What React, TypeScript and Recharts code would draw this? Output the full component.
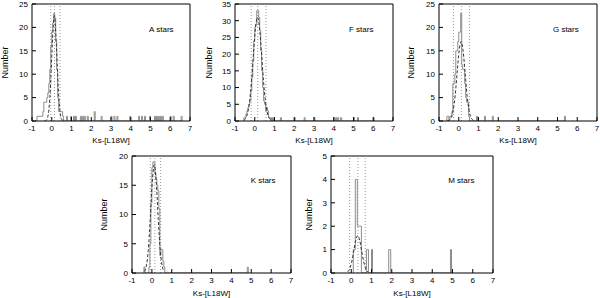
import { ComposedChart, Line, XAxis, YAxis, ReferenceLine, ReferenceDot } from "recharts";

// histogram bins are [left edge, count], bin width 0.05 mag
const BIN = 0.05;
const X_TICKS = [-1, 0, 1, 2, 3, 4, 5, 6, 7];

const aBins: [number, number][] = [
  [-0.75, 1], [-0.7, 1], [-0.65, 1], [-0.6, 1], [-0.55, 1], [-0.5, 1], [-0.45, 2], [-0.4, 4],
  [-0.35, 4], [-0.3, 4], [-0.25, 5], [-0.2, 6], [-0.15, 8], [-0.1, 11], [-0.05, 16], [0, 19],
  [0.05, 21], [0.1, 23], [0.15, 22], [0.2, 17], [0.25, 11], [0.3, 5], [0.35, 2], [0.4, 2],
  [0.45, 2], [0.5, 2], [0.55, 1], [0.75, 1], [0.95, 1], [1.1, 1], [1.2, 1], [1.45, 1],
  [1.55, 1], [1.65, 1], [1.8, 1], [2.15, 2], [2.5, 1], [3.0, 1], [3.15, 1], [3.3, 1],
  [3.95, 1], [4.4, 1], [4.55, 1], [4.7, 1], [4.95, 1], [5.2, 1], [5.3, 1], [5.4, 1],
  [5.5, 1], [5.6, 1], [6.0, 1], [6.15, 1], [6.55, 1],
];
const aFit: [number, number][] = [
  [-0.37, 0.02], [-0.27, 0.2], [-0.17, 1.6], [-0.07, 6.9], [0.03, 16.7], [0.13, 22.5],
  [0.23, 16.7], [0.33, 6.9], [0.43, 1.6], [0.53, 0.2], [0.63, 0.02],
];
const aMarks = [-0.05, 0.14, 0.42];

const fBins: [number, number][] = [
  [-0.55, 1], [-0.5, 1], [-0.45, 2], [-0.4, 3], [-0.35, 4], [-0.3, 5], [-0.25, 6], [-0.2, 9],
  [-0.15, 13], [-0.1, 18], [-0.05, 24], [0, 28], [0.05, 29], [0.1, 33], [0.15, 33], [0.2, 31],
  [0.25, 27], [0.3, 21], [0.35, 15], [0.4, 10], [0.45, 6], [0.5, 5], [0.55, 3], [0.6, 4],
  [0.65, 3], [0.7, 1], [0.75, 1], [0.85, 1], [0.95, 1], [1.3, 1], [2.0, 1], [2.5, 1],
  [3.0, 1], [4.0, 1], [4.1, 1], [4.2, 1], [4.35, 1], [5.0, 1], [5.2, 1], [6.0, 1],
];
const fFit: [number, number][] = [
  [-0.56, 0.2], [-0.46, 0.8], [-0.36, 2.4], [-0.26, 6], [-0.16, 12.2], [-0.06, 20.5],
  [0.04, 28], [0.14, 31], [0.24, 28], [0.34, 20.5], [0.44, 12.2], [0.54, 6], [0.64, 2.4],
  [0.74, 0.8], [0.84, 0.2],
];
const fMarks = [-0.18, 0.15, 0.57];

const gBins: [number, number][] = [
  [-0.6, 1], [-0.55, 1], [-0.45, 1], [-0.4, 1], [-0.35, 2], [-0.3, 8], [-0.25, 8], [-0.2, 10],
  [-0.15, 15], [-0.1, 15], [-0.05, 17], [0, 19], [0.05, 19], [0.1, 23], [0.15, 12], [0.2, 11],
  [0.25, 11], [0.3, 8], [0.35, 5], [0.4, 4], [0.45, 4], [0.5, 1], [0.9, 1], [1.3, 1],
  [1.7, 1], [5.35, 1],
];
const gFit: [number, number][] = [
  [-0.58, 0.04], [-0.48, 0.2], [-0.38, 0.75], [-0.28, 2.3], [-0.18, 5.5], [-0.08, 10.4],
  [0.02, 15], [0.12, 17], [0.22, 15], [0.32, 10.4], [0.42, 5.5], [0.52, 2.3], [0.62, 0.75],
  [0.72, 0.2], [0.82, 0.04],
];
const gMarks = [-0.27, 0.13, 0.54];

const kBins: [number, number][] = [
  [-0.4, 1], [-0.15, 1], [-0.1, 5], [-0.05, 12], [0, 18], [0.05, 19], [0.1, 19], [0.15, 17],
  [0.2, 16], [0.25, 15], [0.3, 14], [0.35, 11], [0.4, 3], [0.45, 4], [0.5, 4], [0.55, 2],
  [0.6, 1], [4.8, 1],
];
const kFit: [number, number][] = [
  [-0.38, 0.25], [-0.28, 1.2], [-0.18, 3.9], [-0.08, 9.3], [0.02, 15.6], [0.12, 18.5],
  [0.22, 15.6], [0.32, 9.3], [0.42, 3.9], [0.52, 1.2], [0.62, 0.25],
];
const kMarks = [-0.08, 0.15, 0.44];

const mBins: [number, number][] = [
  [0.1, 1], [0.15, 1], [0.2, 4], [0.25, 4], [0.3, 2], [0.35, 2], [0.4, 2], [0.45, 2],
  [0.75, 1], [0.8, 1], [1.0, 1], [1.85, 1], [1.9, 1], [4.9, 1],
];
const mFit: [number, number][] = [
  [-0.18, 0.05], [-0.08, 0.17], [0.02, 0.46], [0.12, 0.91], [0.22, 1.39], [0.32, 1.6],
  [0.42, 1.39], [0.52, 0.91], [0.62, 0.46], [0.72, 0.17], [0.82, 0.05],
];
const mMarks = [-0.08, 0.33, 0.69];

// outline of the histogram, drawn as a step line
function steps(bins: [number, number][]) {
  const pts: { x: number; n: number }[] = [];
  bins.forEach(([x, n], i) => {
    const prev = bins[i - 1];
    const next = bins[i + 1];
    if (!prev || Math.abs(prev[0] + BIN - x) > 1e-6) pts.push({ x, n: 0 });
    pts.push({ x, n });
    if (!next || Math.abs(x + BIN - next[0]) > 1e-6) pts.push({ x: +(x + BIN).toFixed(3), n: 0 });
  });
  return pts;
}

interface PanelProps {
  left: number;
  top: number;
  x0: number;
  x1: number;
  y0: number;
  y1: number;
  yMax: number;
  yTicks: number[];
  bins: [number, number][];
  fit: [number, number][];
  marks: number[];
  name: string;
  nameAt: [number, number];
  xLabelOffset: number;
  yLabelOffset: number;
}

const W = 200;
const H = 150;
const tickStyle = { fontSize: 8, fill: "#000" };

function Panel(p: PanelProps) {
  const fitData = p.fit.map(([x, y]) => ({ x, y }));
  return (
    <div style={{ position: "absolute", left: p.left, top: p.top }}>
      <ComposedChart
        width={W}
        height={H}
        margin={{ top: p.y0 - 1, right: W - p.x1 - 1, bottom: 0, left: 0 }}
      >
        <XAxis
          type="number"
          dataKey="x"
          domain={[-1, 7]}
          ticks={X_TICKS}
          interval={0}
          allowDataOverflow
          height={H - p.y1}
          tickSize={-4}
          tickMargin={8}
          stroke="#000"
          tick={tickStyle}
          label={{ value: "Ks-[L18W]", position: "insideBottom", offset: p.xLabelOffset, fontSize: 8, fill: "#000" }}
        />
        <XAxis
          xAxisId="t"
          orientation="top"
          type="number"
          domain={[-1, 7]}
          ticks={X_TICKS}
          interval={0}
          allowDataOverflow
          height={1}
          tickSize={-4}
          tick={false}
          stroke="#000"
        />
        <YAxis
          type="number"
          domain={[0, p.yMax]}
          ticks={p.yTicks}
          interval={0}
          allowDataOverflow
          width={p.x0}
          tickSize={-4}
          tickMargin={8}
          stroke="#000"
          tick={tickStyle}
          label={{
            value: "Number",
            angle: -90,
            position: "insideLeft",
            offset: p.yLabelOffset,
            fontSize: 9,
            fill: "#000",
            style: { textAnchor: "middle" },
          }}
        />
        <YAxis
          yAxisId="r"
          orientation="right"
          type="number"
          domain={[0, p.yMax]}
          ticks={p.yTicks}
          interval={0}
          allowDataOverflow
          width={1}
          tickSize={-4}
          tick={false}
          stroke="#000"
        />
        {p.marks.map((m) => (
          <ReferenceLine key={m} x={m} stroke="#999" strokeDasharray="1 2" />
        ))}
        <Line
          data={steps(p.bins)}
          dataKey="n"
          type="stepAfter"
          stroke="#8c8c8c"
          strokeWidth={1}
          dot={false}
          isAnimationActive={false}
        />
        <Line
          data={fitData}
          dataKey="y"
          type="monotone"
          stroke="#333"
          strokeWidth={1}
          strokeDasharray="3 2"
          dot={false}
          isAnimationActive={false}
        />
        <ReferenceDot
          x={p.nameAt[0]}
          y={p.nameAt[1]}
          r={0}
          fill="none"
          stroke="none"
          label={{ value: p.name, position: "right", offset: 0, fontSize: 8, fill: "#000" }}
        />
      </ComposedChart>
    </div>
  );
}

export default function App() {
  return (
    <div
      style={{
        position: "absolute",
        left: 0,
        top: 0,
        width: 600,
        height: 298,
        background: "#fff",
        fontFamily: "'Liberation Sans', Arial, sans-serif",
      }}
    >
      <Panel left={0} top={0} x0={32} x1={190} y0={4} y1={121} yMax={25} yTicks={[0, 5, 10, 15, 20, 25]}
        bins={aBins} fit={aFit} marks={aMarks} name="A stars" nameAt={[4.93, 19.7]} xLabelOffset={7} yLabelOffset={4.5} />
      <Panel left={200} top={0} x0={35} x1={193} y0={4} y1={121} yMax={35} yTicks={[0, 5, 10, 15, 20, 25, 30, 35]}
        bins={fBins} fit={fFit} marks={fMarks} name="F stars" nameAt={[4.77, 27.5]} xLabelOffset={7} yLabelOffset={9} />
      <Panel left={400} top={0} x0={39} x1={197} y0={4} y1={121} yMax={25} yTicks={[0, 5, 10, 15, 20, 25]}
        bins={gBins} fit={gFit} marks={gMarks} name="G stars" nameAt={[4.77, 19.7]} xLabelOffset={7} yLabelOffset={11} />
      <Panel left={100} top={148} x0={32} x1={191} y0={8} y1={125} yMax={20} yTicks={[0, 5, 10, 15, 20]}
        bins={kBins} fit={kFit} marks={kMarks} name="K stars" nameAt={[4.97, 15.85]} xLabelOffset={2} yLabelOffset={4} />
      <Panel left={300} top={148} x0={31} x1={193} y0={8} y1={125} yMax={5} yTicks={[0, 1, 2, 3, 4, 5]}
        bins={mBins} fit={mFit} marks={mMarks} name="M stars" nameAt={[4.79, 3.96]} xLabelOffset={2} yLabelOffset={9} />
    </div>
  );
}
